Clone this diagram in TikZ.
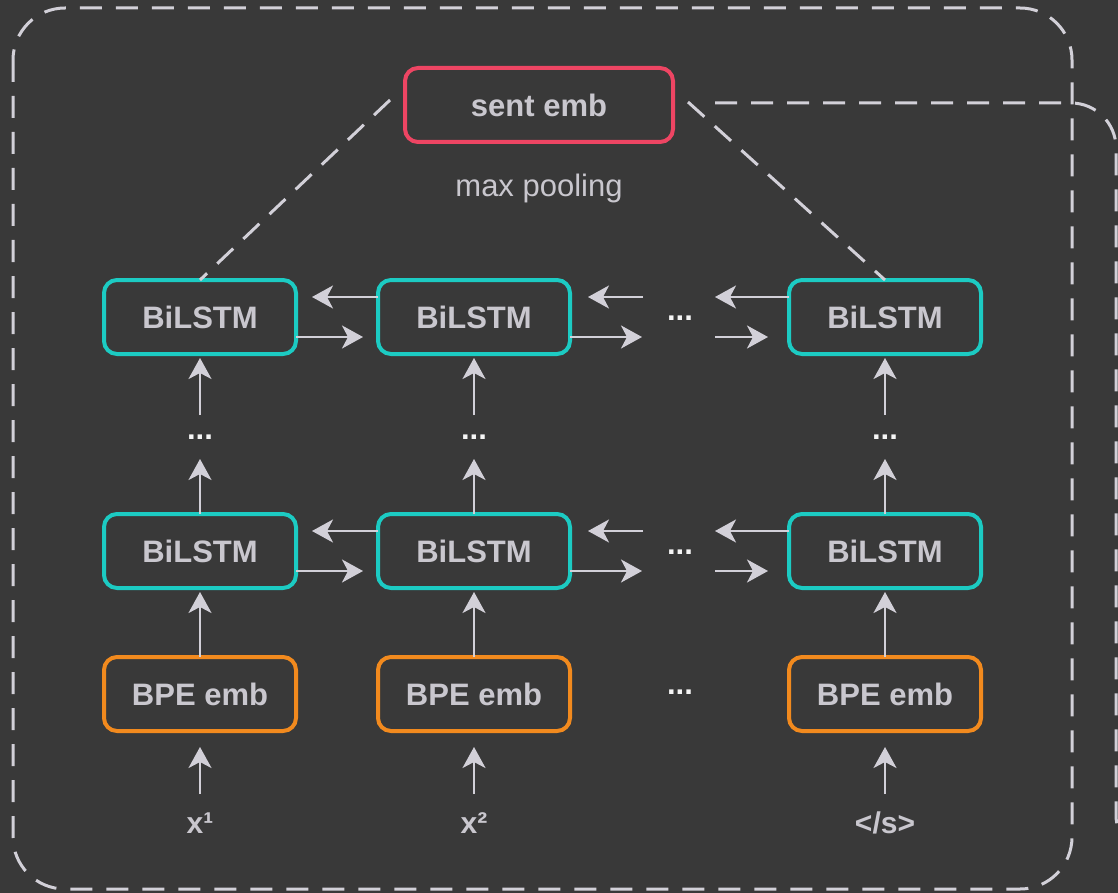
\documentclass[tikz,border=0pt]{standalone}
\usepackage{fontspec}
\setmainfont{Liberation Sans}
\usetikzlibrary{calc,arrows.meta}
\definecolor{bg}{HTML}{393939}
\definecolor{ink}{HTML}{C9C7CE}
\definecolor{wire}{HTML}{D2D0D8}
\definecolor{lstm}{HTML}{1CCBC3}
\definecolor{bpe}{HTML}{F28A1E}
\definecolor{sent}{HTML}{EE4563}
\definecolor{dotc}{HTML}{F6F6F6}

\begin{document}
\begin{tikzpicture}[x=1pt,y=-1pt,
  box/.style={draw, line width=4pt, rounded corners=13pt, minimum width=192pt,
    minimum height=74pt, inner sep=0pt, outer sep=0pt, text=ink,
    font=\fontsize{31}{36}\selectfont\bfseries},
  lstmbox/.style={box, draw=lstm},
  bpebox/.style={box, draw=bpe},
  sentbox/.style={box, draw=sent, minimum width=268pt},
  arr/.style={draw=wire, line width=2.5pt, -{Stealth[length=21pt,width=23pt,inset=6pt]}},
  dline/.style={draw=wire, line width=3pt, dash pattern=on 22pt off 14pt},
  ell/.style={text=dotc, inner sep=0pt, font=\fontsize{31}{36}\selectfont\bfseries},
  tok/.style={text=ink, inner sep=0pt, anchor=base, font=\fontsize{30}{36}\selectfont\bfseries}
]
% canvas
\fill[bg] (0,0) rectangle (1118,893);
\useasboundingbox (0,0) rectangle (1118,893);
\clip (0,0) rectangle (1118,893);

% encoder frame
\draw[dline, rounded corners=52pt] (13,8) rectangle (1072,889);

% sentence embedding
\node[sentbox] (se) at (539,105) {sent emb};
\node[text=ink, inner sep=0pt, font=\fontsize{31}{36}\selectfont] (mp) at (539,188) {max pooling};

% BiLSTM layers
\foreach \i/\x in {1/200,2/474,3/885} {
  \node[lstmbox] (t\i) at (\x,317) {BiLSTM};
  \node[lstmbox] (b\i) at (\x,551) {BiLSTM};
  \node[bpebox]  (e\i) at (\x,694) {BPE emb};
  \node[ell]     (v\i) at (\x,437) {...};
}
\node[tok] (x1) at (200,833) {x¹};
\node[tok] (x2) at (474,833) {x²};
\node[tok] (x3) at (885,833) {</s>};

\node[ell] (ht) at (680,318) {...};
\node[ell] (hb) at (680,552) {...};
\node[ell] (he) at (680,692) {...};

% pooling lines
\draw[dline] ($(se.west)+(-15,-5)$) -- (t1.north);
\draw[dline] ($(se.east)+(15,-3)$) -- (t3.north);

% output connector to the decoder
\coordinate (bend) at (1116,860);
\coordinate (dec) at (1230,860);
\draw[dline, rounded corners=45pt] ($(se.east)+(42,-2)$) -| (bend) -- (dec);

% vertical flow
\foreach \i in {1,2,3} {
  \draw[arr] ($(e\i.south)+(0,63)$) -- ($(e\i.south)+(0,16)$);
  \draw[arr] (e\i.north) -- ($(b\i.south)+(0,4)$);
  \draw[arr] (b\i.north) -- ($(b\i.north)+(0,-55)$);
  \draw[arr] ($(t\i.south)+(0,61)$) -- ($(t\i.south)+(0,4)$);
}

% recurrent connections in both directions
\foreach \r in {t,b} {
  \draw[arr] ($(\r2.west)+(0,-20)$) -- ($(\r1.east)+(16,-20)$);
  \draw[arr] ($(\r1.east)+(0,20)$) -- ($(\r2.west)+(-15,20)$);
  \draw[arr] ($(\r2.east)+(73,-20)$) -- ($(\r2.east)+(18,-20)$);
  \draw[arr] ($(\r2.east)+(0,20)$) -- ($(\r2.east)+(72,20)$);
  \draw[arr] ($(\r3.west)+(0,-20)$) -- ($(\r3.west)+(-74,-20)$);
  \draw[arr] ($(\r3.west)+(-74,20)$) -- ($(\r3.west)+(-21,20)$);
}
\end{tikzpicture}
\end{document}
